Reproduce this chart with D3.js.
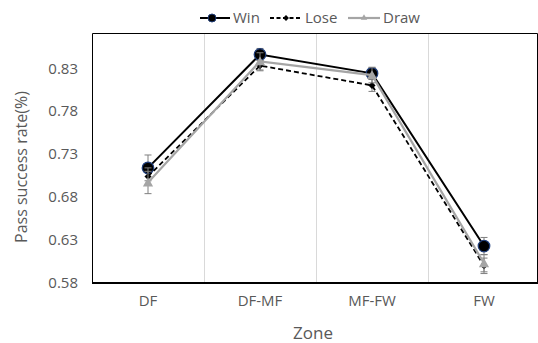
<!DOCTYPE html>
<html>
<head>
<meta charset="utf-8">
<script src="https://cdn.jsdelivr.net/npm/d3@7"></script>
<style>
  html, body { margin: 0; padding: 0; background: #fff; }
  svg { display: block; font-family: "Open Sans", "Noto Sans", sans-serif; }
</style>
</head>
<body>
<svg id="chart" width="538" height="343"></svg>
<script>
// Pass success rate by pitch zone and match outcome
const zones = ["DF", "DF-MF", "MF-FW", "FW"];
const winValues  = [0.714, 0.846, 0.824, 0.623];
const winErrors  = [0.015, 0.007, 0.007, 0.010];
const loseValues = [0.704, 0.833, 0.810, 0.600];
const loseErrors = [0.010, 0.006, 0.007, 0.009];
const drawValues = [0.697, 0.838, 0.822, 0.603];
const drawErrors = [0.013, 0.010, 0.009, 0.010];
const yTicks = [0.58, 0.63, 0.68, 0.73, 0.78, 0.83];

const series = [
  { name: "Win",  values: winValues,  errors: winErrors,  color: "#000", width: 2,   dash: null,  marker: "circle" },
  { name: "Lose", values: loseValues, errors: loseErrors, color: "#000", width: 1.8, dash: "5,3", marker: "diamond" },
  { name: "Draw", values: drawValues, errors: drawErrors, color: "#a5a5a5", width: 2.2, dash: null, marker: "triangle" }
];

const svg = d3.select("#chart");
const plot = { left: 92, right: 537, top: 33, bottom: 283 };

const x = d3.scaleBand().domain(zones).range([plot.left, plot.right + 3]);
const y = d3.scaleLinear().domain([0.58, 0.871]).range([plot.bottom, plot.top]);

// category separators
svg.append("g").selectAll("line")
  .data(zones.slice(1))
  .join("line")
  .attr("x1", d => Math.round(x(d)) + 0.5).attr("x2", d => Math.round(x(d)) + 0.5)
  .attr("y1", plot.top).attr("y2", plot.bottom)
  .attr("stroke", "#d9d9d9").attr("stroke-width", 1);

// plot frame
svg.append("path")
  .attr("d", `M${plot.left + 0.5},${plot.bottom} V${plot.top + 0.5} H${plot.right + 0.5} V${plot.bottom}`)
  .attr("fill", "none").attr("stroke", "#000").attr("stroke-width", 1);

// y axis labels
const yAxis = d3.axisLeft(y).tickValues(yTicks).tickFormat(d3.format(".2f")).tickSize(0).tickPadding(14);
svg.append("g")
  .attr("transform", `translate(${plot.left},0)`)
  .call(yAxis)
  .call(g => g.select(".domain").remove())
  .call(g => g.selectAll("text").attr("fill", "#595959").style("font-size", "15px")
    .style("font-family", "'Open Sans', 'Noto Sans', sans-serif"));

// x axis
const xAxis = d3.axisBottom(x).tickSize(0).tickPadding(12);
svg.append("g")
  .attr("transform", `translate(0,${plot.bottom})`)
  .call(xAxis)
  .call(g => g.select(".domain").remove())
  .call(g => g.selectAll("text").attr("fill", "#595959").style("font-size", "15px")
    .style("font-family", "'Open Sans', 'Noto Sans', sans-serif"));

svg.append("line")
  .attr("x1", plot.left).attr("x2", plot.right + 1)
  .attr("y1", plot.bottom).attr("y2", plot.bottom)
  .attr("stroke", "#000").attr("stroke-width", 2);

// axis titles
svg.append("text")
  .attr("x", 313).attr("y", 339)
  .attr("text-anchor", "middle")
  .attr("fill", "#595959").style("font-size", "17px")
  .text("Zone");

svg.append("text")
  .attr("transform", "translate(27,167) rotate(-90)")
  .attr("text-anchor", "middle")
  .attr("fill", "#595959").style("font-size", "16px")
  .text("Pass success rate(%)");

const cx = d => x(d) + x.bandwidth() / 2;

function drawMarker(g, type, px, py) {
  if (type === "circle") {
    g.append("circle").attr("cx", px).attr("cy", py).attr("r", 5.8)
      .attr("fill", "#000").attr("stroke", "#1f3d7a").attr("stroke-width", 1.2);
  } else if (type === "diamond") {
    g.append("path").attr("d", d3.symbol(d3.symbolDiamond2, 32)())
      .attr("transform", `translate(${px},${py})`).attr("fill", "#000");
  } else {
    g.append("path").attr("d", d3.symbol(d3.symbolTriangle2, 75)())
      .attr("transform", `translate(${px},${py + 1})`).attr("fill", "#a5a5a5");
  }
}

const line = d3.line().x(d => cx(d.zone)).y(d => y(d.value));

series.forEach(s => {
  const pts = zones.map((z, i) => ({ zone: z, value: s.values[i], err: s.errors[i] }));
  const g = svg.append("g");
  g.append("path")
    .datum(pts)
    .attr("d", line)
    .attr("fill", "none")
    .attr("stroke", s.color)
    .attr("stroke-width", s.width)
    .attr("stroke-dasharray", s.dash);

  // error bars
  pts.forEach(p => {
    const px = cx(p.zone);
    const top = y(p.value + p.err), bot = y(p.value - p.err);
    g.append("line").attr("x1", px).attr("x2", px).attr("y1", top).attr("y2", bot)
      .attr("stroke", "#7f7f7f").attr("stroke-width", 1);
    [top, bot].forEach(v => g.append("line")
      .attr("x1", px - 3.5).attr("x2", px + 3.5).attr("y1", v).attr("y2", v)
      .attr("stroke", "#7f7f7f").attr("stroke-width", 1));
  });
  pts.forEach(p => drawMarker(g, s.marker, cx(p.zone), y(p.value)));
});

// legend
const legendItems = [
  { s: series[0], x0: 200, x1: 230, tx: 233 },
  { s: series[1], x0: 270, x1: 302, tx: 305 },
  { s: series[2], x0: 348, x1: 380, tx: 383 }
];
const lg = svg.append("g");
legendItems.forEach(it => {
  const ly = 18;
  lg.append("line").attr("x1", it.x0).attr("x2", it.x1).attr("y1", ly).attr("y2", ly)
    .attr("stroke", it.s.color).attr("stroke-width", it.s.width)
    .attr("stroke-dasharray", it.s.dash ? "4,2.5" : null);
  const mx = (it.x0 + it.x1) / 2;
  if (it.s.marker === "circle") {
    lg.append("circle").attr("cx", mx - 3).attr("cy", ly).attr("r", 4)
      .attr("fill", "#000").attr("stroke", "#1f3d7a").attr("stroke-width", 1);
  } else if (it.s.marker === "diamond") {
    lg.append("path").attr("d", d3.symbol(d3.symbolDiamond2, 22)())
      .attr("transform", `translate(${mx},${ly})`).attr("fill", "#000");
  } else {
    lg.append("path").attr("d", d3.symbol(d3.symbolTriangle2, 30)())
      .attr("transform", `translate(${mx},${ly})`).attr("fill", "#a5a5a5");
  }
  lg.append("text").attr("x", it.tx).attr("y", ly).attr("dy", "0.35em")
    .attr("fill", "#595959").style("font-size", "15px").text(it.s.name);
});
</script>
</body>
</html>
